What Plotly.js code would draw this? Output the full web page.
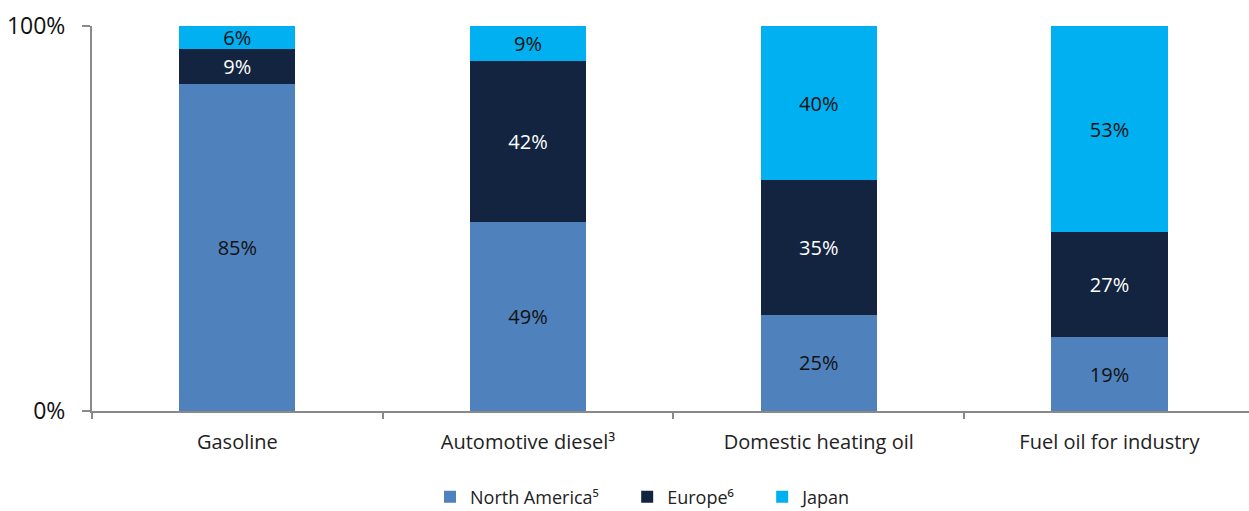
<!DOCTYPE html>
<html>
<head>
<meta charset="utf-8">
<script src="https://cdn.plot.ly/plotly-3.0.1.min.js"></script>
<style>html,body{margin:0;padding:0;background:#fff;}#chart{width:1249px;height:511px;}</style>
</head>
<body>
<div id="chart"></div>
<script>
const categories = ["Gasoline", "Automotive diesel³", "Domestic heating oil", "Fuel oil for industry"];
const northAmerica = [85, 49, 25, 19];
const europe = [9, 42, 35, 27];
const japan = [6, 9, 40, 53];
const seriesNames = ["North America⁵", "Europe⁶", "Japan"];
const yTickVals = [0, 100];
const yTickText = ["0%", "100%"];

const FONT = "'Open Sans', 'Noto Sans', sans-serif";
const pad = "\u00a0".repeat(5);

function mk(name, vals, color, textColor) {
  return {
    type: "bar",
    name: name + pad,
    x: categories,
    y: vals,
    text: vals.map(v => v + "%"),
    textposition: "inside",
    insidetextanchor: "middle",
    textangle: 0,
    textfont: {family: FONT, size: 20, color: textColor},
    marker: {color: color, line: {width: 0}},
    hoverinfo: "skip",
    cliponaxis: false
  };
}

const data = [
  mk(seriesNames[0], northAmerica, "#4F81BD", "#111111"),
  mk(seriesNames[1], europe, "#12243F", "#FFFFFF"),
  mk(seriesNames[2], japan, "#00B0F0", "#111111")
];

const layout = {
  width: 1249, height: 511,
  margin: {l: 92, r: 0, t: 26, b: 100},
  barmode: "stack",
  barnorm: "percent",
  bargap: 0.6,
  paper_bgcolor: "#fff",
  plot_bgcolor: "#fff",
  font: {family: FONT, color: "#222"},
  uniformtext: {minsize: 20, mode: "show"},
  xaxis: {
    range: [-0.5, 3.48],
    showgrid: false,
    zeroline: false,
    showline: true,
    linecolor: "#898989",
    linewidth: 2,
    ticks: "outside",
    tickson: "boundaries",
    ticklen: 6,
    tickwidth: 2,
    tickcolor: "#898989",
    ticklabelstandoff: 12,
    tickfont: {family: FONT, size: 20, color: "#222"},
    fixedrange: true
  },
  yaxis: {
    range: [0, 100],
    tickvals: yTickVals,
    ticktext: yTickText,
    showgrid: false,
    zeroline: false,
    showline: true,
    linecolor: "#898989",
    linewidth: 2,
    ticks: "outside",
    ticklen: 8,
    tickwidth: 2,
    tickcolor: "#898989",
    ticklabelstandoff: 12,
    tickfont: {family: FONT, size: 23, color: "#111"},
    fixedrange: true
  },
  showlegend: true,
  legend: {
    orientation: "h",
    xref: "container", yref: "container",
    x: 430 / 1249, xanchor: "left",
    y: 1 - 497 / 511, yanchor: "middle",
    font: {family: FONT, size: 18, color: "#222"},
    traceorder: "normal",
    itemwidth: 30
  }
};

Plotly.newPlot("chart", data, layout, {displayModeBar: false, staticPlot: true});
</script>
</body>
</html>
